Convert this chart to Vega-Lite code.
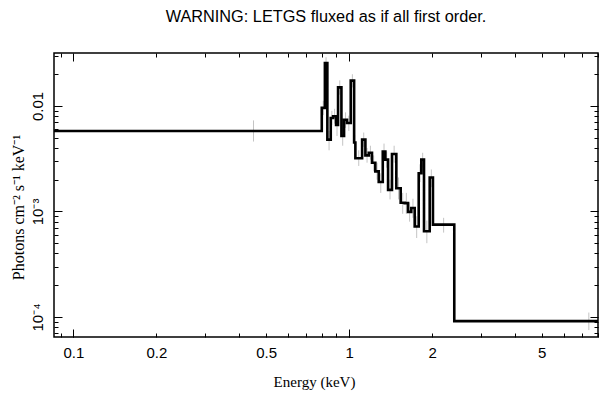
{
  "$schema": "https://vega.github.io/schema/vega-lite/v6.json",
  "width": 544,
  "height": 284,
  "autosize": {"type": "none"},
  "padding": {"left": 54, "top": 53, "right": 11, "bottom": 62},
  "background": "white",
  "title": {"text": "WARNING: LETGS fluxed as if all first order.", "font": "Liberation Sans", "fontSize": 16.3, "fontWeight": "normal", "color": "black", "anchor": "middle", "offset": 27},
  "config": {
    "view": {"stroke": "black", "strokeWidth": 1.5},
    "axis": {"grid": false, "domain": false, "tickColor": "black", "tickWidth": 1, "labelColor": "black", "titleColor": "black", "labelFont": "Liberation Sans", "labelFontSize": 15, "titleFont": "Liberation Serif", "titleFontSize": 15, "titleFontWeight": "normal"}
  },
  "data": {"values": [
    {"e": 0.05, "f": 0.0058, "c": 0.45, "lo": 0.0046, "hi": 0.0073},
    {"e": 0.796, "f": 0.0096, "c": 0.806, "lo": 0.0082, "hi": 0.0112},
    {"e": 0.817, "f": 0.0256, "c": 0.825, "lo": 0.0225, "hi": 0.029},
    {"e": 0.834, "f": 0.0048, "c": 0.846, "lo": 0.0038, "hi": 0.0058},
    {"e": 0.858, "f": 0.0077, "c": 0.866, "lo": 0.0066, "hi": 0.009},
    {"e": 0.875, "f": 0.008, "c": 0.886, "lo": 0.0068, "hi": 0.0094},
    {"e": 0.897, "f": 0.0066, "c": 0.904, "lo": 0.0052, "hi": 0.008},
    {"e": 0.912, "f": 0.015, "c": 0.925, "lo": 0.0128, "hi": 0.0175},
    {"e": 0.938, "f": 0.0052, "c": 0.948, "lo": 0.0042, "hi": 0.0063},
    {"e": 0.959, "f": 0.0074, "c": 0.971, "lo": 0.0062, "hi": 0.0087},
    {"e": 0.983, "f": 0.0069, "c": 0.998, "lo": 0.0058, "hi": 0.0081},
    {"e": 1.014, "f": 0.0174, "c": 1.028, "lo": 0.015, "hi": 0.02},
    {"e": 1.043, "f": 0.0045, "c": 1.048, "lo": 0.0038, "hi": 0.0053},
    {"e": 1.054, "f": 0.0032, "c": 1.084, "lo": 0.0027, "hi": 0.0038},
    {"e": 1.115, "f": 0.0048, "c": 1.13, "lo": 0.0041, "hi": 0.0056},
    {"e": 1.146, "f": 0.0034, "c": 1.162, "lo": 0.0029, "hi": 0.004},
    {"e": 1.179, "f": 0.0036, "c": 1.195, "lo": 0.0031, "hi": 0.0042},
    {"e": 1.211, "f": 0.0029, "c": 1.228, "lo": 0.0024, "hi": 0.0034},
    {"e": 1.245, "f": 0.0024, "c": 1.263, "lo": 0.002, "hi": 0.0029},
    {"e": 1.281, "f": 0.0019, "c": 1.303, "lo": 0.0015, "hi": 0.0023},
    {"e": 1.325, "f": 0.0037, "c": 1.339, "lo": 0.0031, "hi": 0.0044},
    {"e": 1.354, "f": 0.0031, "c": 1.369, "lo": 0.0026, "hi": 0.0037},
    {"e": 1.385, "f": 0.0016, "c": 1.408, "lo": 0.0013, "hi": 0.002},
    {"e": 1.431, "f": 0.0035, "c": 1.457, "lo": 0.0029, "hi": 0.0042},
    {"e": 1.484, "f": 0.00166, "c": 1.511, "lo": 0.0013, "hi": 0.0021},
    {"e": 1.539, "f": 0.00121, "c": 1.565, "lo": 0.00095, "hi": 0.0015},
    {"e": 1.591, "f": 0.0012, "c": 1.613, "lo": 0.00095, "hi": 0.0015},
    {"e": 1.636, "f": 0.00099, "c": 1.658, "lo": 0.0008, "hi": 0.00122},
    {"e": 1.681, "f": 0.00108, "c": 1.705, "lo": 0.00087, "hi": 0.00132},
    {"e": 1.73, "f": 0.00072, "c": 1.759, "lo": 0.00056, "hi": 0.0009},
    {"e": 1.789, "f": 0.0023, "c": 1.808, "lo": 0.0019, "hi": 0.0028},
    {"e": 1.828, "f": 0.0031, "c": 1.849, "lo": 0.0026, "hi": 0.0036},
    {"e": 1.87, "f": 0.00065, "c": 1.915, "lo": 0.0005, "hi": 0.00082},
    {"e": 1.961, "f": 0.0021, "c": 1.988, "lo": 0.0017, "hi": 0.0025},
    {"e": 2.015, "f": 0.00075, "c": 2.203, "lo": 0.00063, "hi": 0.00087},
    {"e": 2.408, "f": 0.0000913, "c": 7.41, "lo": 0.000075, "hi": 0.00011},
    {"e": 20, "f": 0.0000913}
  ]},
  "resolve": {"axis": {"x": "independent", "y": "independent"}},
  "layer": [
    {
      "transform": [{"filter": "isValid(datum.c)"}],
      "mark": {"type": "rule", "color": "#c4c4c4", "strokeWidth": 1, "clip": true},
      "encoding": {
        "x": {"field": "c", "type": "quantitative", "scale": {"type": "log", "domain": [0.085, 8], "nice": false},
          "axis": {"orient": "bottom", "values": [0.09, 0.1, 0.2, 0.3, 0.4, 0.5, 0.6, 0.7, 0.8, 0.9, 1, 2, 3, 4, 5, 6, 7, 8], "tickSize": -4,
            "labelExpr": "indexof([0.1, 0.2, 0.5, 1, 2, 5], datum.value) >= 0 ? datum.value + '' : ''",
            "labelPadding": 12, "labelFlush": false, "labelOverlap": false,
            "title": "Energy (keV)", "titleX": 260, "titleY": 44, "titleBaseline": "middle", "titleAlign": "center"}},
        "y": {"field": "lo", "type": "quantitative", "scale": {"type": "log", "domain": [0.0000645, 0.0318], "nice": false},
          "axis": {"orient": "left", "values": [0.00007, 0.00008, 0.00009, 0.0001, 0.0002, 0.0003, 0.0004, 0.0005, 0.0006, 0.0007, 0.0008, 0.0009, 0.001, 0.002, 0.003, 0.004, 0.005, 0.006, 0.007, 0.008, 0.009, 0.01, 0.02, 0.03], "tickSize": -4,
            "labelExpr": "datum.value == 0.01 ? '0.01' : datum.value == 0.001 ? '10⁻³' : datum.value == 0.0001 ? '10⁻⁴' : ''",
            "labelAngle": -90, "labelAlign": "center", "labelBaseline": "bottom", "labelPadding": 13, "labelFlush": false, "labelOverlap": false,
            "title": "Photons cm⁻² s⁻¹ keV⁻¹", "titleFontSize": 16, "titleAngle": -90, "titleX": -36, "titleY": 154, "titleAlign": "center", "titleBaseline": "middle"}},
        "y2": {"field": "hi"}
      }
    },
    {
      "mark": {"type": "line", "interpolate": "step-after", "color": "black", "strokeWidth": 2.6, "clip": true},
      "encoding": {
        "x": {"field": "e", "type": "quantitative", "scale": {"type": "log", "domain": [0.085, 8], "nice": false},
          "axis": {"orient": "bottom", "values": [0.1, 1], "tickSize": -8, "labels": false, "title": null}},
        "y": {"field": "f", "type": "quantitative", "scale": {"type": "log", "domain": [0.0000645, 0.0318], "nice": false},
          "axis": {"orient": "left", "values": [0.0001, 0.001, 0.01], "tickSize": -8, "labels": false, "title": null}}
      }
    },
    {
      "mark": {"type": "point", "opacity": 0},
      "encoding": {
        "x": {"field": "e", "type": "quantitative", "scale": {"type": "log", "domain": [0.085, 8], "nice": false},
          "axis": {"orient": "top", "values": [0.09, 0.2, 0.3, 0.4, 0.5, 0.6, 0.7, 0.8, 0.9, 2, 3, 4, 5, 6, 7, 8], "tickSize": -4, "labels": false, "title": null}},
        "y": {"field": "f", "type": "quantitative", "scale": {"type": "log", "domain": [0.0000645, 0.0318], "nice": false},
          "axis": {"orient": "right", "values": [0.00007, 0.00008, 0.00009, 0.0002, 0.0003, 0.0004, 0.0005, 0.0006, 0.0007, 0.0008, 0.0009, 0.002, 0.003, 0.004, 0.005, 0.006, 0.007, 0.008, 0.009, 0.02, 0.03], "tickSize": -4, "labels": false, "title": null}}
      }
    },
    {
      "mark": {"type": "point", "opacity": 0},
      "encoding": {
        "x": {"field": "e", "type": "quantitative", "scale": {"type": "log", "domain": [0.085, 8], "nice": false},
          "axis": {"orient": "top", "values": [0.1, 1], "tickSize": -8, "labels": false, "title": null}},
        "y": {"field": "f", "type": "quantitative", "scale": {"type": "log", "domain": [0.0000645, 0.0318], "nice": false},
          "axis": {"orient": "right", "values": [0.0001, 0.001, 0.01], "tickSize": -8, "labels": false, "title": null}}
      }
    }
  ]
}
